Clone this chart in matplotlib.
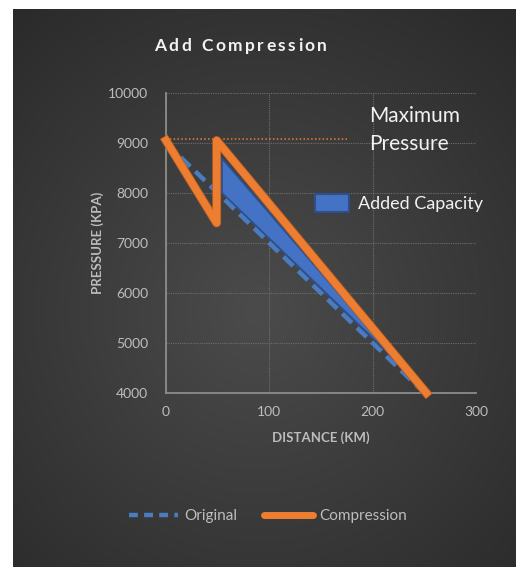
import matplotlib
matplotlib.use("Agg")
import matplotlib.pyplot as plt
import matplotlib.patheffects as pe
from matplotlib.lines import Line2D
from matplotlib.patches import Patch
import numpy as np

plt.rcParams['font.family'] = ['Lato', 'DejaVu Sans']

# data
orig_x = [0, 250]
orig_y = [9000, 4000]
comp_x = [0, 49, 49, 252]
comp_y = [9050, 7400, 9050, 4000]
cap_x = [54, 230, 54]
cap_y = [8700, 4500, 8000]
max_x = [0, 175]
max_y = [9080, 9080]
x_ticks = [0, 100, 200, 300]
y_ticks = [4000, 5000, 6000, 7000, 8000, 9000, 10000]

W, H = 516, 567
fig = plt.figure(figsize=(W / 100, H / 100), dpi=100)
fig.patch.set_facecolor('#2b2b2b')

# dark panel with a soft radial gradient
bg = fig.add_axes([0, 0, 1, 1])
gx, gy = np.meshgrid(np.linspace(0, 1, 300), np.linspace(0, 1, 300))
r = np.sqrt(((gx - 0.5) / 0.75) ** 2 + ((gy - 0.45) / 0.7) ** 2)
shade = np.clip(0.295 - 0.13 * r, 0.165, 0.295)
bg.imshow(np.dstack([shade, shade, shade]), aspect='auto', extent=[0, 1, 0, 1], origin='lower')
bg.axvspan(0, 13 / W, color='white', lw=0)
bg.axhspan(1 - 9 / H, 1, color='white', lw=0)
bg.set_xlim(0, 1)
bg.set_ylim(0, 1)
bg.set_axis_off()

ax = fig.add_axes([166 / W, 1 - 393 / H, 310 / W, 300 / H])
ax.set_facecolor('none')

ax.fill(cap_x, cap_y, facecolor='#4472c4', edgecolor='#2f4f8a', linewidth=1.5, zorder=2)
ax.plot(orig_x, orig_y, color='#4a7cc0', linestyle=(0, (3, 1.6)), linewidth=3.2, zorder=3)
ax.plot(comp_x, comp_y, color='#ed7d31', linewidth=5.2, solid_joinstyle='round', zorder=4,
        clip_on=False, path_effects=[pe.Stroke(linewidth=6.4, foreground='#b85f22'), pe.Normal()])
ax.plot(max_x, max_y, color='#ed7d31', linestyle=(0, (1, 1.5)), linewidth=1.1, zorder=3)

ax.set_xlim(0, 300)
ax.set_ylim(4000, 10000)
ax.set_xticks(x_ticks)
ax.set_yticks(y_ticks)
ax.grid(True, color='#6e6e6e', linestyle=(0, (1, 1)), linewidth=0.8)
ax.set_axisbelow(True)
for s in ['top', 'right']:
    ax.spines[s].set_visible(False)
for s in ['left', 'bottom']:
    ax.spines[s].set_color('#8c8c8c')
    ax.spines[s].set_linewidth(1.3)
ax.tick_params(length=0, labelsize=10, labelcolor='#bdbdbd')
ax.tick_params(axis='y', pad=13)
ax.tick_params(axis='x', pad=9)

ax.set_xlabel('DISTANCE (KM)', color='#bdbdbd', fontsize=9.5, fontweight='bold', labelpad=10)
ax.set_ylabel('PRESSURE (KPA)', color='#bdbdbd', fontsize=9.5, fontweight='bold', labelpad=3)

ax.text(0.655, 0.955, 'Maximum\nPressure', transform=ax.transAxes, color='#f2f2f2',
        fontsize=15, va='top', ha='left', linespacing=1.45)

leg_cap = ax.legend(handles=[Patch(facecolor='#4472c4', edgecolor='#2f4f8a', linewidth=1.5)],
                    labels=['Added Capacity'], loc='upper left', bbox_to_anchor=(0.48, 0.665),
                    frameon=False, fontsize=13, handlelength=1.9, handleheight=1.2,
                    handletextpad=0.5, borderpad=0, borderaxespad=0)
for t in leg_cap.get_texts():
    t.set_color('#f2f2f2')

handles = [Line2D([], [], color='#4a7cc0', linestyle=(0, (2, 1.4)), linewidth=3.2),
           Line2D([], [], color='#ed7d31', linewidth=5, solid_capstyle='round')]
leg = fig.legend(handles=handles, labels=['Original', 'Compression'], loc='center',
                 bbox_to_anchor=(268 / W, 1 - 516 / H), ncol=2, frameon=False, fontsize=11,
                 handlelength=3.2, handletextpad=0.4, columnspacing=1.8)
for t in leg.get_texts():
    t.set_color('#bdbdbd')

# title with wide letter spacing
title = 'Add Compression'
renderer = fig.canvas.get_renderer()
widths = []
for ch in title:
    t = fig.text(0, 0, ch if ch != ' ' else 'n', fontsize=12.5, fontweight='bold')
    widths.append(t.get_window_extent(renderer).width * (0.55 if ch == ' ' else 1))
    t.remove()
gap = (173 - sum(widths)) / (len(title) - 1)
xpos = 154
for ch, w in zip(title, widths):
    if ch != ' ':
        fig.text(xpos / W, 1 - 46 / H, ch, fontsize=12.5, fontweight='bold', color='#f2f2f2',
                 va='center', ha='left')
    xpos += w + gap

fig.savefig('out.png', dpi=100, facecolor=fig.get_facecolor())
